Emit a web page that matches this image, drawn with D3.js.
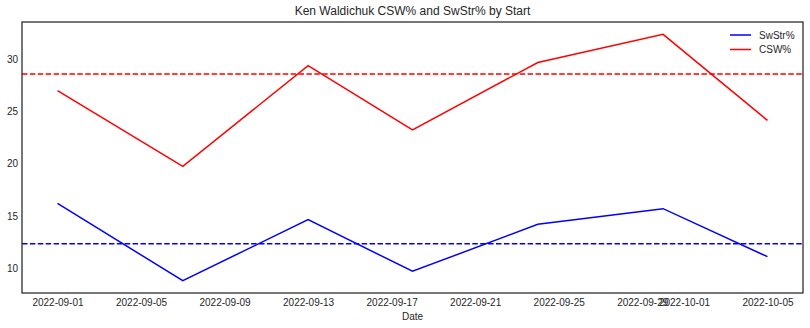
<!DOCTYPE html>
<html><head><meta charset="utf-8">
<script src="https://cdn.jsdelivr.net/npm/d3@7"></script>
<style>
body{margin:0;background:#fff;}
text{font-family:"Liberation Sans",Arial,sans-serif;fill:#262626;}
</style></head>
<body><svg id="c" width="810" height="328"></svg>
<script>
const dates = ["2022-09-01","2022-09-07","2022-09-13","2022-09-18","2022-09-24","2022-09-30","2022-10-05"];
const swstr = [16.2, 8.8, 14.65, 9.7, 14.2, 15.7, 11.1];
const csw   = [27.0, 19.75, 29.4, 23.25, 29.7, 32.4, 24.15];
const swstrAvg = 12.33;
const cswAvg = 28.6;
const xTickLabels = ["2022-09-01","2022-09-05","2022-09-09","2022-09-13","2022-09-17","2022-09-21","2022-09-25","2022-09-29","2022-10-01","2022-10-05"];
const yTicks = [10, 15, 20, 25, 30];
const title = "Ken Waldichuk CSW% and SwStr% by Start";
const seriesNames = ["SwStr%", "CSW%"];
const colors = ["blue", "red"];

const svg = d3.select("#c");
const L = 22, R = 803, T = 22, B = 293;
const parse = d3.utcParse("%Y-%m-%d");
const dts = dates.map(parse);
const [x0, x1] = d3.extent(dts);
const span = x1 - x0;
const x = d3.scaleUtc().domain([new Date(+x0 - span*0.05), new Date(+x1 + span*0.05)]).range([L, R]);
const allY = swstr.concat(csw);
const [ymin, ymax] = d3.extent(allY);
const yr = ymax - ymin;
const y = d3.scaleLinear().domain([ymin - yr*0.05, ymax + yr*0.05]).range([B, T]);

// axes
const xAxis = d3.axisBottom(x).tickValues(xTickLabels.map(parse)).tickFormat(d3.utcFormat("%Y-%m-%d")).tickSize(0).tickPadding(6);
const gx = svg.append("g").attr("transform", `translate(0,${B})`).call(xAxis);
gx.select(".domain").remove();
gx.selectAll("text").attr("font-size", 10).style("fill", "#262626").style("font-family", "Liberation Sans, Arial, sans-serif");

const yAxis = d3.axisLeft(y).tickValues(yTicks).tickSize(0).tickPadding(4);
const gy = svg.append("g").attr("transform", `translate(${L},0)`).call(yAxis);
gy.select(".domain").remove();
gy.selectAll("text").attr("font-size", 10).style("fill", "#262626").style("font-family", "Liberation Sans, Arial, sans-serif");

// lines
const line = d3.line().x((d, i) => x(dts[i])).y(d => y(d));
[swstr, csw].forEach((s, k) => {
  svg.append("path").attr("d", line(s)).attr("fill", "none").attr("stroke", colors[k]).attr("stroke-width", 1.5);
});
[swstrAvg, cswAvg].forEach((v, k) => {
  svg.append("line").attr("x1", L).attr("x2", R).attr("y1", y(v)).attr("y2", y(v))
    .attr("stroke", colors[k]).attr("stroke-width", 1.5).attr("stroke-dasharray", "5.5,2.4");
});

// frame
svg.append("rect").attr("x", L).attr("y", T).attr("width", R - L).attr("height", B - T)
  .attr("fill", "none").attr("stroke", "#262626").attr("stroke-width", 1.25);

// title and labels
svg.append("text").attr("x", (L + R) / 2).attr("y", 15).attr("text-anchor", "middle").attr("font-size", 12).text(title);
svg.append("text").attr("x", (L + R) / 2).attr("y", 320).attr("text-anchor", "middle").attr("font-size", 10).text("Date");

// legend
seriesNames.forEach((n, k) => {
  const ly = 35 + k * 14.5;
  svg.append("line").attr("x1", 730).attr("x2", 751).attr("y1", ly).attr("y2", ly).attr("stroke", colors[k]).attr("stroke-width", 1.5);
  svg.append("text").attr("x", 759).attr("y", ly + 3.5).attr("font-size", 10).text(n);
});
</script></body></html>
